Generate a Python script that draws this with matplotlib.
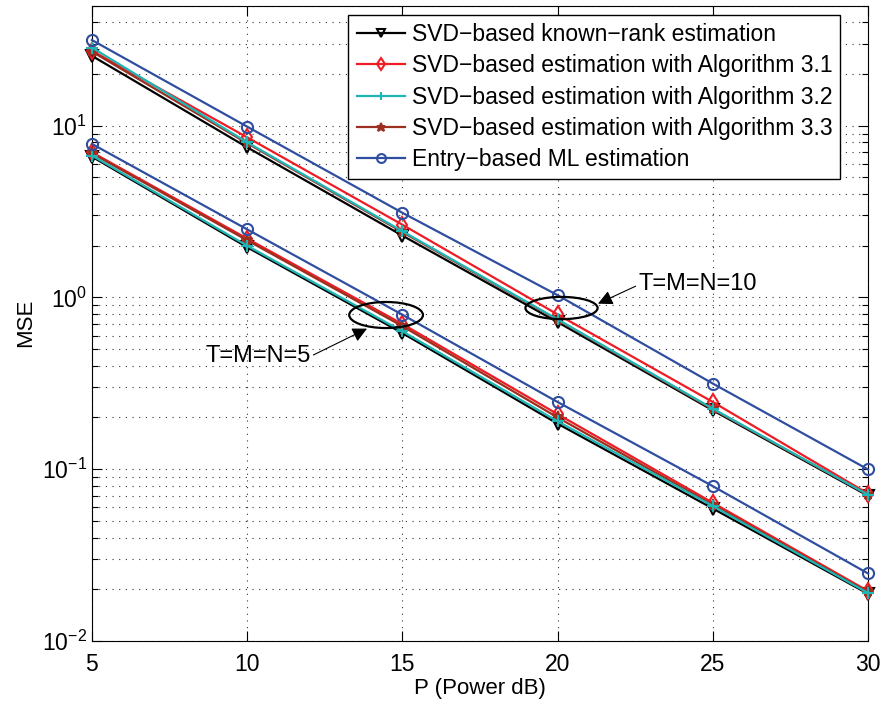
import numpy as np
import matplotlib.pyplot as plt
from matplotlib.patches import Ellipse
from matplotlib.ticker import LogLocator, NullFormatter

plt.rcParams['font.family'] = ['Liberation Sans', 'DejaVu Sans']
plt.rcParams['mathtext.default'] = 'regular'

# moc (dB)
P = [5, 10, 15, 20, 25, 30]

# T=M=N=10 (gorna grupa)
known_10 = [25.5, 7.48, 2.29, 0.718, 0.220, 0.0700]
alg31_10 = [27.3, 8.55, 2.65, 0.796, 0.246, 0.0720]
alg32_10 = [28.5, 8.00, 2.43, 0.745, 0.225, 0.0710]
alg33_10 = [27.0, 7.90, 2.40, 0.740, 0.223, 0.0710]
ml_10 = [31.5, 9.87, 3.11, 1.03, 0.315, 0.0996]

# T=M=N=5 (dolna grupa)
known_5 = [6.60, 1.96, 0.620, 0.184, 0.0590, 0.0188]
alg31_5 = [7.00, 2.20, 0.700, 0.209, 0.0637, 0.0195]
alg32_5 = [6.70, 2.00, 0.635, 0.190, 0.0610, 0.0190]
alg33_5 = [6.90, 2.15, 0.680, 0.200, 0.0620, 0.0192]
ml_5 = [7.83, 2.49, 0.793, 0.246, 0.0796, 0.0247]

labels = ['SVD\u2212based known\u2212rank estimation',
          'SVD\u2212based estimation with Algorithm 3.1',
          'SVD\u2212based estimation with Algorithm 3.2',
          'SVD\u2212based estimation with Algorithm 3.3',
          'Entry\u2212based ML estimation']

fig = plt.figure(figsize=(8.84, 7.02), dpi=100)
ax = fig.add_axes([0.104, 0.087, 0.878, 0.905])

styles = [
    dict(color='black', marker='v', mfc='none', zorder=3),
    dict(color='#ee1c24', marker='d', mfc='none', zorder=4),
    dict(color='#1fb5b5', marker='+', zorder=5),
    dict(color='#9c3020', marker='*', zorder=4.5),
    dict(color='#2f4ea0', marker='o', mfc='none', zorder=6),
]
series_10 = [known_10, alg31_10, alg32_10, alg33_10, ml_10]
series_5 = [known_5, alg31_5, alg32_5, alg33_5, ml_5]

for lab, st, y10, y5 in zip(labels, styles, series_10, series_5):
    z = st.pop('zorder')
    z10 = 4.2 if st['color'] == '#9c3020' else z
    ax.plot(P, y10, lw=1.6, ms=8, mew=1.5, zorder=z10, clip_on=False, label=lab, **st)
    ax.plot(P, y5, lw=1.6, ms=8, mew=1.5, zorder=z, clip_on=False, **st)

ax.set_yscale('log')
ax.set_xlim(5, 30)
ax.set_ylim(1e-2, 50)
ax.set_xticks(P)
ax.yaxis.set_major_locator(LogLocator(base=10, numticks=10))
ax.yaxis.set_minor_locator(LogLocator(base=10, subs=np.arange(2, 10), numticks=20))
ax.yaxis.set_minor_formatter(NullFormatter())

ax.tick_params(which='both', direction='in', top=True, right=True, labelsize=16.5)
ax.tick_params(which='major', length=7, width=0.8)
ax.tick_params(which='minor', length=4, width=0.8)
ax.tick_params(axis='x', pad=9)

grid_kw = dict(color='#333333', linestyle=(0, (1, 5)), linewidth=0.8)
ax.grid(True, which='major', axis='both', **grid_kw)
ax.grid(True, which='minor', axis='y', **grid_kw)
ax.set_axisbelow(True)

ax.set_xlabel('P (Power dB)', fontsize=16, labelpad=1)
ax.set_ylabel('MSE', fontsize=16, labelpad=4)

leg = ax.legend(loc='upper right', bbox_to_anchor=(0.964, 0.985), borderaxespad=0,
                fontsize=16.5, handlelength=2.1, handletextpad=0.3, labelspacing=0.36,
                borderpad=0.35, markerscale=0.8, fancybox=False, edgecolor='black',
                framealpha=1)
leg.get_frame().set_linewidth(1.0)

# elipsy i opisy
ax.add_patch(Ellipse((0.379, 0.513), 0.095, 0.041, transform=ax.transAxes,
                     fill=False, ec='black', lw=1.6, zorder=7))
ax.add_patch(Ellipse((0.605, 0.524), 0.093, 0.035, transform=ax.transAxes,
                     fill=False, ec='black', lw=1.6, zorder=7))

arrow = dict(arrowstyle='-|>', color='black', lw=0.8, mutation_scale=22,
             shrinkA=0, shrinkB=0)
ax.annotate('T=M=N=10', xy=(21.3, 0.92), xytext=(22.6, 1.2), fontsize=17,
            ha='left', va='center', arrowprops=dict(relpos=(0, 0.45), **arrow))
ax.annotate('T=M=N=5', xy=(13.86, 0.658), xytext=(8.65, 0.454), fontsize=17,
            ha='left', va='center', arrowprops=dict(relpos=(1, 0.5), **arrow))

fig.savefig('out.png', dpi=100)
